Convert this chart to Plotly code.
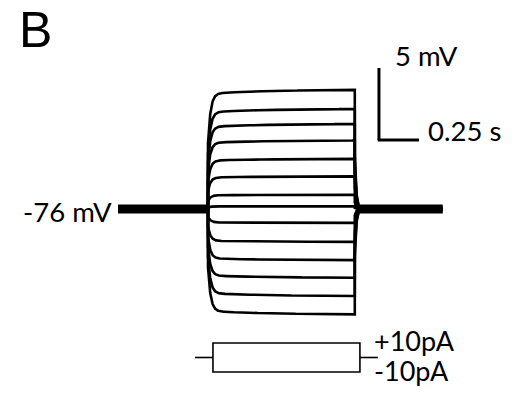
import numpy as np
import plotly.graph_objects as go

# ---- data ----
rest_mv = -76.0
step_amplitudes_mv = [8.30, 6.97, 5.92, 4.77, 3.49, 2.27, 0.99, 0.19,
                      -0.97, -2.29, -3.56, -4.79, -6.06, -7.34]
stim_on_s = 0.5625
stim_off_s = 1.48
sweep_end_s = 2.03
scale_mv = 5.0
scale_s = 0.25
stim_labels = ["+10pA", "-10pA"]
rest_label = "-76 mV"
panel_label = "B"

# ---- membrane response model used to draw each sweep ----
J = 0.55      # instantaneous (bridge) fraction
TF = 0.016    # fast charging tau
S = 0.035     # slow component fraction
TS = 0.4
TD = 0.009    # decay tau after offset

t = np.arange(0.0, sweep_end_s + 1e-9, 0.001)
t = np.sort(np.concatenate([t, [stim_on_s, stim_on_s + 1e-6, stim_off_s, stim_off_s + 1e-6]]))


def sweep(dv):
    v = np.zeros_like(t)
    on = (t > stim_on_s) & (t <= stim_off_s)
    tt = t[on] - stim_on_s
    v[on] = J + (1 - J - S) * (1 - np.exp(-tt / TF)) + S * (1 - np.exp(-tt / TS))
    tend = stim_off_s - stim_on_s
    f_off = J + (1 - J - S) * (1 - np.exp(-tend / TF)) + S * (1 - np.exp(-tend / TS))
    off = t > stim_off_s
    v[off] = (f_off - J) * np.exp(-(t[off] - stim_off_s) / TD)
    return rest_mv + dv * v


fig = go.Figure()

# thick baseline (overlapping resting segments)
fig.add_trace(go.Scatter(x=[0, stim_on_s], y=[rest_mv, rest_mv], mode="lines",
                         line=dict(color="black", width=9), hoverinfo="skip"))
fig.add_trace(go.Scatter(x=[stim_off_s + 0.025, sweep_end_s], y=[rest_mv, rest_mv], mode="lines",
                         line=dict(color="black", width=9), hoverinfo="skip"))

for dv in step_amplitudes_mv:
    fig.add_trace(go.Scatter(x=t, y=sweep(dv), mode="lines",
                             line=dict(color="black", width=2.6), hoverinfo="skip"))

# ---- axis geometry (px -> data) ----
PX_PER_S = 160.0
PX_PER_MV = 14.4
X0_PX = 118.0
BASE_PX = 209.0
W, H = 520, 397
xr = [-X0_PX / PX_PER_S, (W - X0_PX) / PX_PER_S]
yr = [rest_mv - (H - BASE_PX) / PX_PER_MV, rest_mv + BASE_PX / PX_PER_MV]

# scale bar
sb_t = stim_off_s + 0.151
sb_v = rest_mv + 4.792
shapes = [
    dict(type="line", xref="x", yref="y", x0=sb_t, x1=sb_t, y0=sb_v, y1=sb_v + scale_mv,
         line=dict(color="black", width=3)),
    dict(type="line", xref="x", yref="y", x0=sb_t - 0.008, x1=sb_t + scale_s, y0=sb_v, y1=sb_v,
         line=dict(color="black", width=3)),
]

# stimulus schematic
box_t0 = stim_on_s + 0.031
box_t1 = stim_off_s + 0.032
stub = 0.112
by_top = 1 - 343 / H
by_bot = 1 - 372 / H
by_mid = 1 - 357.5 / H
shapes += [
    dict(type="rect", xref="x", yref="paper", x0=box_t0, x1=box_t1, y0=by_bot, y1=by_top,
         line=dict(color="black", width=1.6)),
    dict(type="line", xref="x", yref="paper", x0=box_t0 - stub, x1=box_t0, y0=by_mid, y1=by_mid,
         line=dict(color="black", width=1.6)),
    dict(type="line", xref="x", yref="paper", x0=box_t1, x1=box_t1 + stub, y0=by_mid, y1=by_mid,
         line=dict(color="black", width=1.6)),
]

FONT = "Lato, Calibri, Carlito, sans-serif"
fs = 27.5


def ann(text, xpx, ypx, xanchor="left", yanchor="middle", size=fs, family=FONT):
    return dict(text=text, x=xpx / W, y=1 - ypx / H, xref="paper", yref="paper",
                xanchor=xanchor, yanchor=yanchor, showarrow=False,
                font=dict(family=family, size=size, color="black"))


annotations = [
    ann(panel_label, 17, 0, yanchor="top", size=50, family="Liberation Sans, Arial, sans-serif"),
    ann(f"{scale_mv:g} mV", 393, 56),
    ann(f"{scale_s:g} s", 426, 130),
    ann(rest_label, 114, 211, xanchor="right"),
    ann(stim_labels[0], 372, 340, size=27),
    ann(stim_labels[1], 372, 370, size=27),
]

fig.update_layout(
    width=W, height=H, margin=dict(l=0, r=0, t=0, b=0),
    paper_bgcolor="white", plot_bgcolor="white", showlegend=False,
    xaxis=dict(range=xr, visible=False, fixedrange=True),
    yaxis=dict(range=yr, visible=False, fixedrange=True),
    shapes=shapes, annotations=annotations,
)

fig.write_html("out.html", config={"displayModeBar": False},
               post_script="document.body.style.margin='0';document.body.style.overflow='hidden';")
